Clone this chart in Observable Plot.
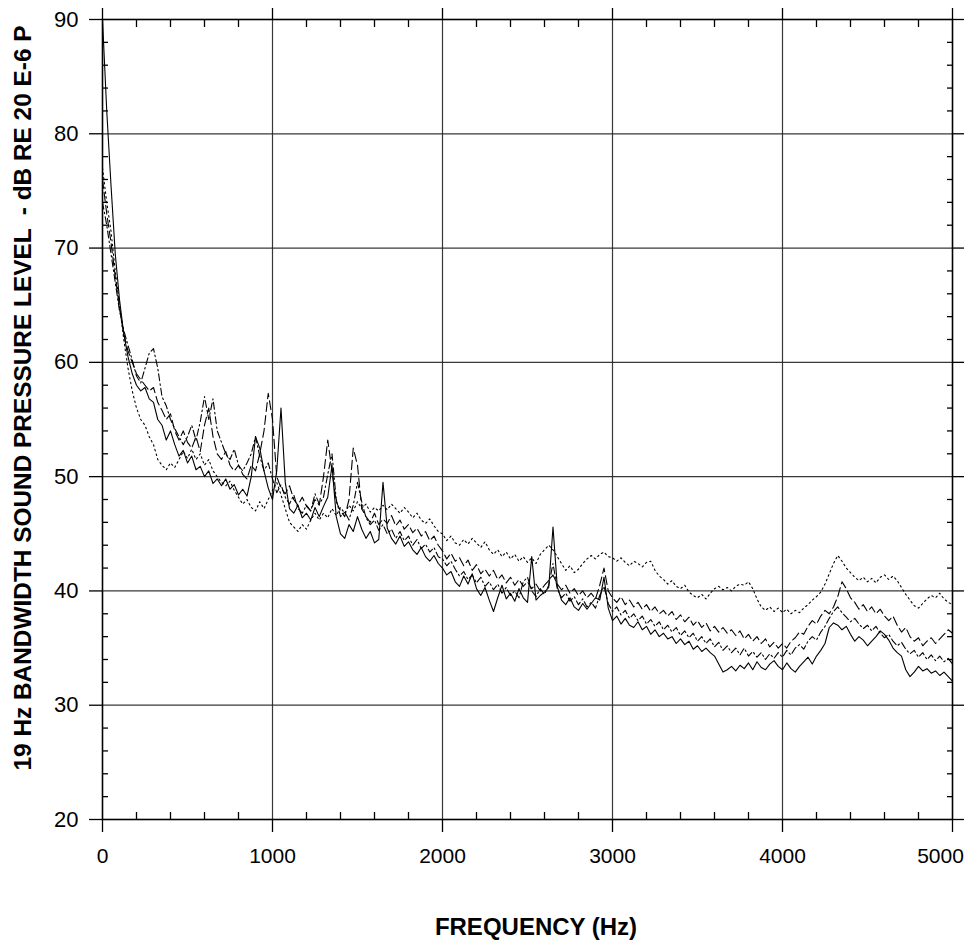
<!DOCTYPE html>
<html><head><meta charset="utf-8">
<script src="https://cdn.jsdelivr.net/npm/d3@7"></script>
<script src="https://cdn.jsdelivr.net/npm/@observablehq/plot@0.6"></script>
<style>body{margin:0;background:#fff}</style>
</head><body><div id="chart"></div>
<script>
const frequency = [
0,25,50,75,100,125,150,175,200,225,250,275,300,325,350,375,400,425,450,475,
500,525,550,575,600,625,650,675,700,725,750,775,800,825,850,875,900,925,950,975,
1000,1025,1050,1075,1100,1125,1150,1175,1200,1225,1250,1275,1300,1325,1350,1375,1400,1425,1450,1475,
1500,1525,1550,1575,1600,1625,1650,1675,1700,1725,1750,1775,1800,1825,1850,1875,1900,1925,1950,1975,
2000,2025,2050,2075,2100,2125,2150,2175,2200,2225,2250,2275,2300,2325,2350,2375,2400,2425,2450,2475,
2500,2525,2550,2575,2600,2625,2650,2675,2700,2725,2750,2775,2800,2825,2850,2875,2900,2925,2950,2975,
3000,3025,3050,3075,3100,3125,3150,3175,3200,3225,3250,3275,3300,3325,3350,3375,3400,3425,3450,3475,
3500,3525,3550,3575,3600,3625,3650,3675,3700,3725,3750,3775,3800,3825,3850,3875,3900,3925,3950,3975,
4000,4025,4050,4075,4100,4125,4150,4175,4200,4225,4250,4275,4300,4325,4350,4375,4400,4425,4450,4475,
4500,4525,4550,4575,4600,4625,4650,4675,4700,4725,4750,4775,4800,4825,4850,4875,4900,4925,4950,4975,
5000];

const solidSeries = [
90,82,75.5,69.5,65.5,62.5,60.5,59,58,57.5,57.8,56.8,56.5,55,54.5,53.2,54,52.8,51.8,52.3,
51.2,51.8,50.6,50.9,50,50.5,49.4,49.8,49.2,49.8,48.9,49.3,48.4,48.9,48.3,50,53.5,52.5,50.5,49,
48,50.5,56,49.5,47.2,46.8,47.5,46.4,46.8,46.2,47.3,46.5,47.4,48.2,51,46.5,45,44.6,45.8,45.2,
46.5,45.4,44.6,45.2,44.2,44.5,49.5,45.5,44.6,44.1,44.8,43.9,44.3,43.6,43.2,43.8,43,42.6,43.1,42.4,
42,41.4,41.7,40.8,40.4,41.3,40.6,41.5,40.2,39.6,40.3,39.2,38.2,39.4,40.5,39.3,39.8,39.1,40.2,39.4,
39,43,39.2,39.6,39.9,40.3,45.6,40.4,39.2,38.8,39.4,38.6,38.3,38.9,38.4,38.9,39.4,39.2,41.2,38.5,
37.4,37.8,37.1,37.6,37,36.8,37.3,36.6,36.9,36.2,36.6,36,36.3,35.8,36,35.4,35.8,35.3,35.6,34.9,
35.2,34.7,35,34.6,34.3,33.6,32.9,33.1,33.4,33,33.5,33.2,33.7,33.1,33.8,33.3,33.1,33.6,33.9,33.4,
33.1,33.7,33.2,32.9,33.4,33.8,34.2,33.6,34.3,34.8,35.4,36.8,37.2,37,36.6,36.9,36.2,35.6,36,35.7,
35.2,35.6,36,36.5,36.2,35.7,35,34.6,34.3,33.1,32.5,32.9,33.4,33,33.2,32.8,33,32.6,32.9,32.5,
32.1];

const dashedSeries = [
76,73,70.5,67.5,64.8,62.5,61,60,59,58.5,58,57.5,57.8,56.5,55.8,55,55.5,54,53.2,54,
53,52.5,53.5,52.2,54.5,56,53.5,52,51.5,52.2,51,50.5,51,50.2,49.8,51,50.5,52,54,57.3,
55,50,49,48.5,49.2,48,47.5,48.2,47.4,47,48,47.5,50,53.2,50.5,47.8,47,46.5,48,52.5,
51,47.2,46.5,46,46.8,45.8,46.3,45.9,46.6,45.7,46.2,45.4,45.8,45.1,45.5,44.8,45.2,44.4,44.8,44,
43.5,42.8,43.3,42.6,42.9,42.2,42.7,41.8,42.3,41.5,41.9,41.3,41.8,41,41.4,40.7,41.2,40.5,41,40.4,
40.8,40.2,40.6,40,40.5,40.9,41.4,40.6,40.1,40.5,39.8,40.2,39.6,40,39.4,39.8,39.3,40.5,42,40,
39.4,39,39.5,38.8,39.2,38.6,39,38.4,38.8,38.2,38.6,38,38.3,37.8,38.2,37.5,37.9,37.3,37.7,37,
37.4,36.8,37.2,36.5,36.9,36.4,36.8,36.3,36.6,36.1,36.5,35.8,36.2,35.6,36,35.4,35.8,35.1,35.5,35,
35.4,35,35.6,35.9,36.4,36.2,36.9,37.4,37.1,37.8,38.3,38,38.6,39.5,40.8,40.2,39.4,39,38.4,38.8,
38.2,38.6,38,38.4,37.8,37.4,37.8,37,36.4,36.8,36,35.6,35.9,35.2,35.6,35.9,35.4,35.8,36.2,36.6,
36.3];

const dashDotSeries = [
74,72,69.5,67,64.5,62.8,61.5,60.2,58.8,58.2,59.5,60.8,61.2,59.5,57,56.2,55,54.2,53.5,52.8,
53.5,54.5,53.2,54.8,57,55,56.8,54,53,52,51.5,52.4,51,50.5,51.2,52,53.5,51.8,50.5,51.2,
49.8,48.6,49.3,48.2,47.6,48.4,47.2,46.8,47.5,47,48.5,47.6,48.2,50.2,52,48,46.5,46.9,46.2,47.5,
49.5,47.8,46.4,45.8,46.2,45.3,45.8,45,45.4,44.6,45.2,44.4,44.8,44,44.5,43.7,44.1,43.4,43.8,43,
42.8,42.2,42.6,41.9,41.3,41.7,41,41.4,40.7,41.2,40.4,40.8,40.1,40.6,39.8,40.3,39.6,40,39.4,40.8,
41.2,40,39.5,40.2,39.7,40.5,42.4,40.2,39.4,39.8,39.1,39.5,38.8,39.3,38.6,39,38.5,39.6,40.4,38.9,
38.2,38.6,37.9,38.3,37.6,38,37.4,37.8,37.1,37.5,36.9,37.3,36.6,37,36.4,36.8,36.1,36.5,35.9,36.3,
35.6,36,35.4,35.8,35.1,35.5,34.8,35.2,34.6,35,34.4,35,34.3,34.7,34.2,34.6,34,34.5,34.1,34.6,
34.2,34.8,34.4,35,35.3,34.9,35.6,36,35.7,36.4,36.9,37.6,38.2,38.6,38.1,37.7,37.3,37.6,37.1,36.7,
37,36.5,36.9,36.3,35.9,36.2,35.6,35.2,35.5,34.9,34.5,34.8,34.2,34.6,34,34.4,33.9,34.3,33.8,34.1,
33.6];

const dottedSeries = [
77,74,71.5,68,65,62,59.5,57.5,56,55,54.5,53.5,52.8,51.5,51,50.6,51.2,50.8,51.5,52.2,
51.6,52.4,51.5,52,51,51.5,50.5,50,49.5,49.2,49.6,48.8,48.2,47.6,48,47.3,47,47.8,47.2,48,
48.8,49.5,48.4,47.2,46,45.6,45.2,45.8,45.4,46.2,46.8,46.2,46.8,46.4,47.2,46.6,47.3,46.8,47.5,47,
47.8,47.2,47.6,46.9,47.3,47,47.5,47.1,47.6,47.2,46.8,47.3,46.9,46.4,46.8,46.2,45.9,46.3,45.7,45.2,
45,44.4,44.8,44.2,44,44.5,44.1,44.6,44.2,43.8,44.3,43.6,43.2,43.6,43,43.4,42.8,43.2,42.6,43,
42.5,42.9,42.4,43.2,43.6,44,43.6,43,42.4,41.8,42.2,41.6,41.9,42.4,42.8,43.1,42.8,43.2,43.4,43,
42.9,42.6,42.9,42.5,42.2,42.6,42.4,42.1,42.5,42.6,41.8,41.3,41,40.6,40.9,40.4,40.2,40.5,39.9,39.6,
39.4,39.7,39.3,39.8,40.2,40.4,40.1,40.3,40,40.4,40.6,40.5,40.8,40.2,39.3,38.6,38.3,38.6,38.2,38.5,
38.1,38.4,38,38.3,38.1,38.5,38.8,39.2,39.5,39.9,40.6,41.5,42.4,43.1,42.6,42,41.6,41.2,40.9,41.2,
40.8,41.1,40.7,41.2,41.4,41,41.3,40.9,40.3,39.7,39.2,38.7,38.5,38.9,39.3,39.6,39.4,39.8,39.3,39,
38.8];

const xTicks = [0,1000,2000,3000,4000,5000];
const xLabelTicks = [0,1000,2000,3000,4000];
const xLastTick = [5000];
const xGrid = [1000,2000,3000,4000];
const xMinor = [200,400,600,800,1200,1400,1600,1800,2200,2400,2600,2800,3200,3400,3600,3800,4200,4400,4600,4800];
const yTicks = [20,30,40,50,60,70,80,90];
const yGrid = [30,40,50,60,70,80];
const yMinor = [22,24,26,28,32,34,36,38,42,44,46,48,52,54,56,58,62,64,66,68,72,74,76,78,82,84,86,88];

const xLabel = "FREQUENCY (Hz)";
const yLabel = "19 Hz BANDWIDTH SOUND PRESSURE LEVEL  - dB RE 20 E-6 P";

const toRows = (vals) => frequency.map((f, i) => ({f, db: vals[i]}));
const lineStyles = [
  {vals: dottedSeries, dash: "1.6,3.2"},
  {vals: dashDotSeries, dash: "7,3,1.6,3"},
  {vals: dashedSeries, dash: "9,4"},
  {vals: solidSeries, dash: null}
];

const font = "'Liberation Sans', Arial, Helvetica, sans-serif";
const blank = () => "";
const plain = d => String(d);

const chart = Plot.plot({
  width: 964,
  height: 941,
  marginLeft: 102,
  marginRight: 12,
  marginTop: 19,
  marginBottom: 122,
  style: {fontFamily: font, fontSize: "22px", color: "black", background: "white"},
  x: {domain: [0, 5000]},
  y: {domain: [20, 90]},
  marks: [
    Plot.gridX(xGrid, {stroke: "#222", strokeOpacity: 0.9, strokeWidth: 1.2}),
    Plot.gridY(yGrid, {stroke: "#222", strokeOpacity: 0.9, strokeWidth: 1.2}),
    ...lineStyles.map(s => Plot.line(toRows(s.vals), {x: "f", y: "db", stroke: "black", strokeWidth: 1.1, strokeDasharray: s.dash})),
    Plot.frame({stroke: "black", strokeWidth: 1.6}),
    Plot.axisY(yTicks, {anchor: "left", tickSize: 13, tickPadding: 11, fontSize: 22, tickFormat: plain, label: null, strokeWidth: 1.3}),
    Plot.axisY(yTicks, {anchor: "right", tickSize: 12, tickFormat: blank, label: null, strokeWidth: 1.3}),
    Plot.axisX(xTicks, {anchor: "bottom", tickSize: 13, tickFormat: blank, label: null, strokeWidth: 1.3}),
    Plot.axisX(xLabelTicks, {anchor: "bottom", tickSize: 0, tickPadding: 29, fontSize: 21, tickFormat: plain, label: null}),
    Plot.axisX(xLastTick, {anchor: "bottom", tickSize: 0, tickPadding: 29, fontSize: 21, tickFormat: plain, label: null, dx: -12}),
    Plot.axisX(xTicks, {anchor: "top", tickSize: 12, tickFormat: blank, label: null, strokeWidth: 1.3}),
    Plot.axisX(xMinor, {anchor: "bottom", tickSize: 7, dy: -7, tickFormat: blank, label: null, strokeWidth: 1.3}),
    Plot.axisX(xMinor, {anchor: "top", tickSize: 7, dy: 7, tickFormat: blank, label: null, strokeWidth: 1.3}),
    Plot.axisY(yMinor, {anchor: "left", tickSize: 6, dx: 6, tickFormat: blank, label: null, strokeWidth: 1.3}),
    Plot.axisY(yMinor, {anchor: "right", tickSize: 6, dx: -6, tickFormat: blank, label: null, strokeWidth: 1.3})
  ]
});

const svg = d3.select(chart);
svg.append("text")
  .attr("x", 536).attr("y", 935)
  .attr("text-anchor", "middle")
  .attr("font-family", font).attr("font-weight", "bold").attr("font-size", 24)
  .attr("fill", "black")
  .text(xLabel);
svg.append("text")
  .attr("transform", "translate(31,398) rotate(-90)")
  .attr("text-anchor", "middle")
  .attr("font-family", font).attr("font-weight", "bold").attr("font-size", 23)
  .attr("textLength", 745).attr("lengthAdjust", "spacingAndGlyphs")
  .attr("xml:space", "preserve")
  .attr("fill", "black")
  .text(yLabel);

document.getElementById("chart").appendChild(chart);
</script>
</body></html>
